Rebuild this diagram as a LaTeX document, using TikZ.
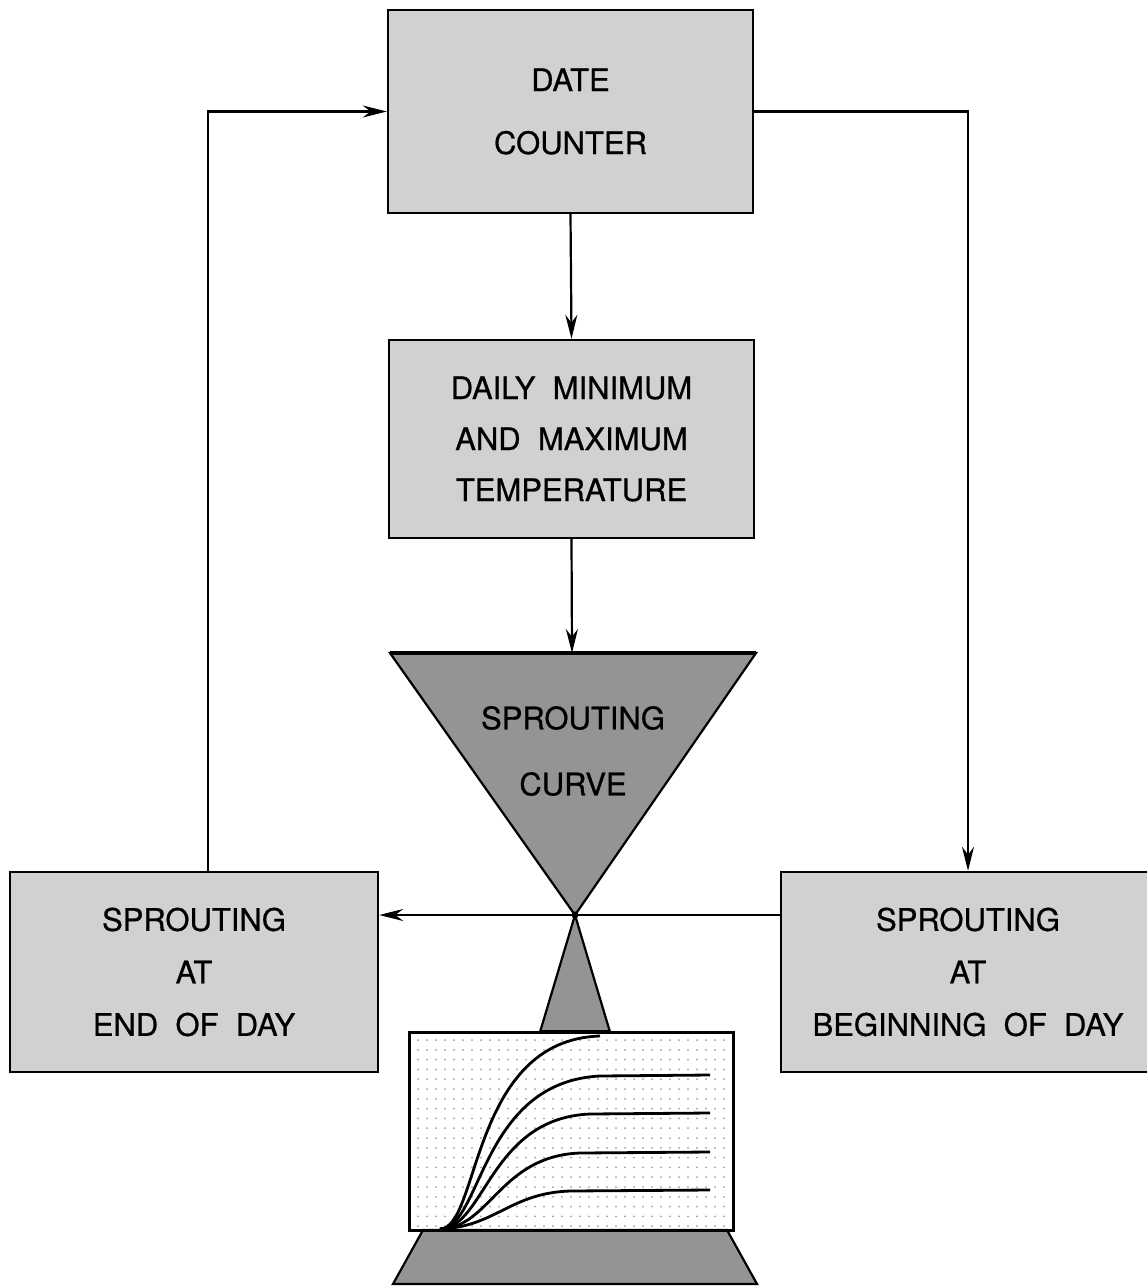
\documentclass[tikz,border=0pt]{standalone}
\usepackage{fontspec}
\setmainfont[FakeBold=0.7]{TeX Gyre Heros}
\usetikzlibrary{arrows.meta}
\definecolor{stip}{gray}{0.82}
\definecolor{tri}{gray}{0.58}
\begin{document}
\begin{tikzpicture}[x=1pt,y=-1pt,
  boxst/.style={draw=black,line width=2.4pt,fill=stip,align=center,inner sep=0pt},
  conn/.style={line width=2.2pt,-{Stealth[length=24pt,width=12pt]}},
  curv/.style={line width=2.8pt}]
\useasboundingbox (0,0) rectangle (1146,1287);
% boxes
\node[boxst,minimum width=365pt,minimum height=203pt,font=\fontsize{31}{63}\selectfont] (date) at (570.5,111.5) {DATE\\COUNTER};
\node[boxst,minimum width=365pt,minimum height=198pt,font=\fontsize{31}{51}\selectfont] (daily) at (571.5,439) {DAILY\ \ MINIMUM\\AND\ \ MAXIMUM\\TEMPERATURE};
\node[boxst,minimum width=368pt,minimum height=200pt,font=\fontsize{31}{52.5}\selectfont] (endday) at (194,972) {SPROUTING\\AT\\END\ \ OF\ \ DAY};
\node[boxst,minimum width=374pt,minimum height=200pt,font=\fontsize{31}{52.5}\selectfont] (begday) at (968,972) {SPROUTING\\AT\\BEGINNING\ \ OF\ \ DAY};
% hourglass
\coordinate (tritop) at (572,653);
\coordinate (apex) at (575,915);
\draw[line width=2.2pt,fill=tri] (390,653) -- (756,653) -- (apex) -- cycle;
\draw[line width=4.5pt] (390,653) -- (756,653);
\draw[line width=2.2pt,fill=tri] (apex) -- (610,1032) -- (540,1032) -- cycle;
\draw[line width=1pt,fill=stip] (540,1030) rectangle (610,1035);
\node[font=\fontsize{31}{66}\selectfont,align=center] (curvelabel) at (573,751) {SPROUTING\\CURVE};
% graph box
\node[draw=black,line width=2.4pt,fill=white,minimum width=323pt,minimum height=197pt,inner sep=0pt] (graph) at (571.5,1131.5) {};
\foreach \i in {0,...,34} {
  \foreach \j in {0,...,19} {
    \fill[gray!75] (418+9*\i,1040+9.8*\j) circle (1pt);
  }
}
\draw[line width=2.2pt,fill=tri] (423,1230) -- (727,1230) -- (757,1284) -- (393,1284) -- cycle;
\draw[line width=2.4pt] (graph.south west) rectangle (graph.north east);
% curves
\draw[curv] (440,1229) .. controls (480,1228) and (470,1040) .. (600,1036);
\draw[curv] (440,1229) .. controls (482,1228) and (480,1082) .. (600,1076) -- (710,1075);
\draw[curv] (440,1229) .. controls (485,1228) and (490,1118) .. (590,1114) -- (710,1113);
\draw[curv] (440,1229) .. controls (490,1228) and (500,1156) .. (580,1153) -- (710,1152);
\draw[curv] (440,1229) .. controls (495,1227) and (510,1193) .. (570,1191) -- (710,1190);
% connectors
\draw[conn] (date.south) -- (daily.north);
\draw[conn] (daily.south) -- (tritop);
\draw[conn] (begday.west |- apex) -- (endday.east |- apex);
\fill (apex) circle (3.5pt);
\draw[conn] (endday.north -| 208,0) |- (date.west);
\draw[conn] (date.east) -| (begday.north);
\end{tikzpicture}
\end{document}
